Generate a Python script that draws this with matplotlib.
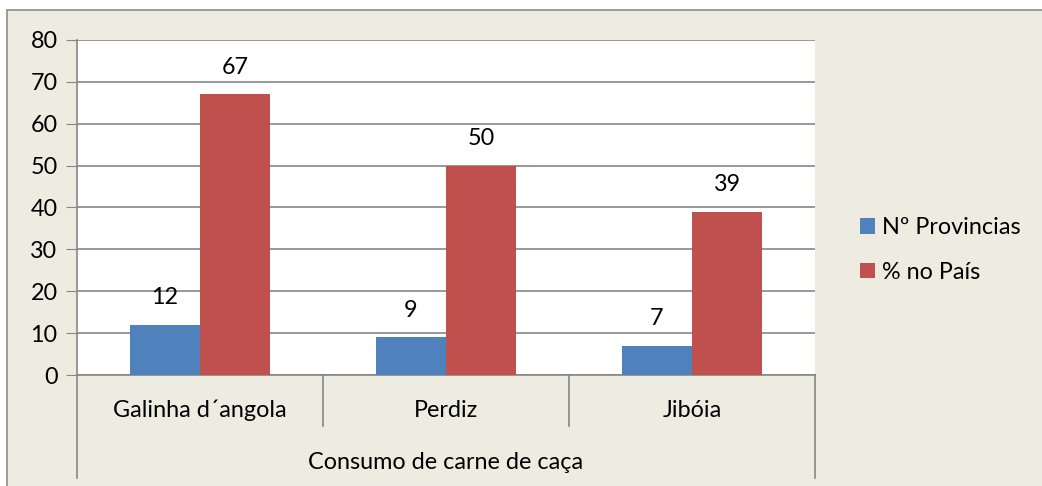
import matplotlib
matplotlib.use('Agg')
import matplotlib.pyplot as plt
from matplotlib.patches import Rectangle, Patch
from matplotlib.transforms import blended_transform_factory

# Data
categories = ['Galinha d´angola', 'Perdiz', 'Jibóia']
group_label = 'Consumo de carne de caça'
series_names = ['Nº Provincias', '% no País']
provincias = [12, 9, 7]
pct_pais = [67, 50, 39]
colors = ['#4F81BD', '#C0504D']

W, H = 1042, 486
BG = '#EEECE1'
GRID = '#868686'
FS = 16.8

plt.rcParams['font.family'] = ['Lato', 'DejaVu Sans']

fig = plt.figure(figsize=(W / 100, H / 100), dpi=100)
fig.patch.set_facecolor('white')

# Chart area frame (cut off at right and bottom)
fig.patches.append(Rectangle((7 / W, -0.1), 1.2, (H - 10) / H + 0.1,
                             transform=fig.transFigure, facecolor=BG,
                             edgecolor='#8C8C8C', linewidth=1.2, zorder=-5))

# Plot area
left, right, top, bottom = 77, 815, 40, 375
ax = fig.add_axes([left / W, (H - bottom) / H, (right - left) / W, (bottom - top) / H])
ax.set_facecolor('white')

x = list(range(len(categories)))
bw = 0.285
b1 = ax.bar([i - bw / 2 for i in x], provincias, bw, color=colors[0], zorder=3)
b2 = ax.bar([i + bw / 2 for i in x], pct_pais, bw, color=colors[1], zorder=3)

for bars, vals in ((b1, provincias), (b2, pct_pais)):
    for r, v in zip(bars, vals):
        ax.annotate(str(v), (r.get_x() + r.get_width() / 2, v),
                    xytext=(0, 12), textcoords='offset points',
                    ha='center', va='bottom', fontsize=FS)

ax.set_xlim(-0.5, 2.5)
ax.set_ylim(0, 80)
ax.set_yticks(range(0, 81, 10))
ax.tick_params(axis='y', length=8, color=GRID, labelsize=FS, pad=6)
ax.set_xticks([])
ax.yaxis.grid(True, color=GRID, linewidth=1.2, zorder=1)
ax.set_axisbelow(True)
for s in ('top', 'right'):
    ax.spines[s].set_visible(False)
for s in ('left', 'bottom'):
    ax.spines[s].set_color(GRID)
    ax.spines[s].set_linewidth(1.2)

# Category axis with separators
h = bottom - top
trans = blended_transform_factory(ax.transData, ax.transAxes)
y_short = -(426 - bottom) / h
y_long = -(478 - bottom) / h
ax.plot([-0.5, -0.5], [0, y_long], transform=trans, color=GRID, lw=1.2, clip_on=False)
ax.plot([2.5, 2.5], [0, y_long], transform=trans, color=GRID, lw=1.2, clip_on=False)
for sep in (0.5, 1.5):
    ax.plot([sep, sep], [0, y_short], transform=trans, color=GRID, lw=1.2, clip_on=False)

for i, c in zip(x, categories):
    ax.text(i, -(410 - bottom) / h, c, transform=trans, ha='center', va='center', fontsize=FS)
ax.text(1, -(462 - bottom) / h, group_label, transform=trans, ha='center', va='center', fontsize=FS)

handles = [Patch(facecolor=colors[0]), Patch(facecolor=colors[1])]
fig.legend(handles, series_names, loc='center left',
           bbox_to_anchor=(848 / W, (H - 250) / H), frameon=False,
           fontsize=FS, handlelength=0.65, handleheight=0.65,
           handletextpad=0.3, labelspacing=1.0, borderpad=0)

fig.savefig('out.png', dpi=100, facecolor=fig.get_facecolor())
